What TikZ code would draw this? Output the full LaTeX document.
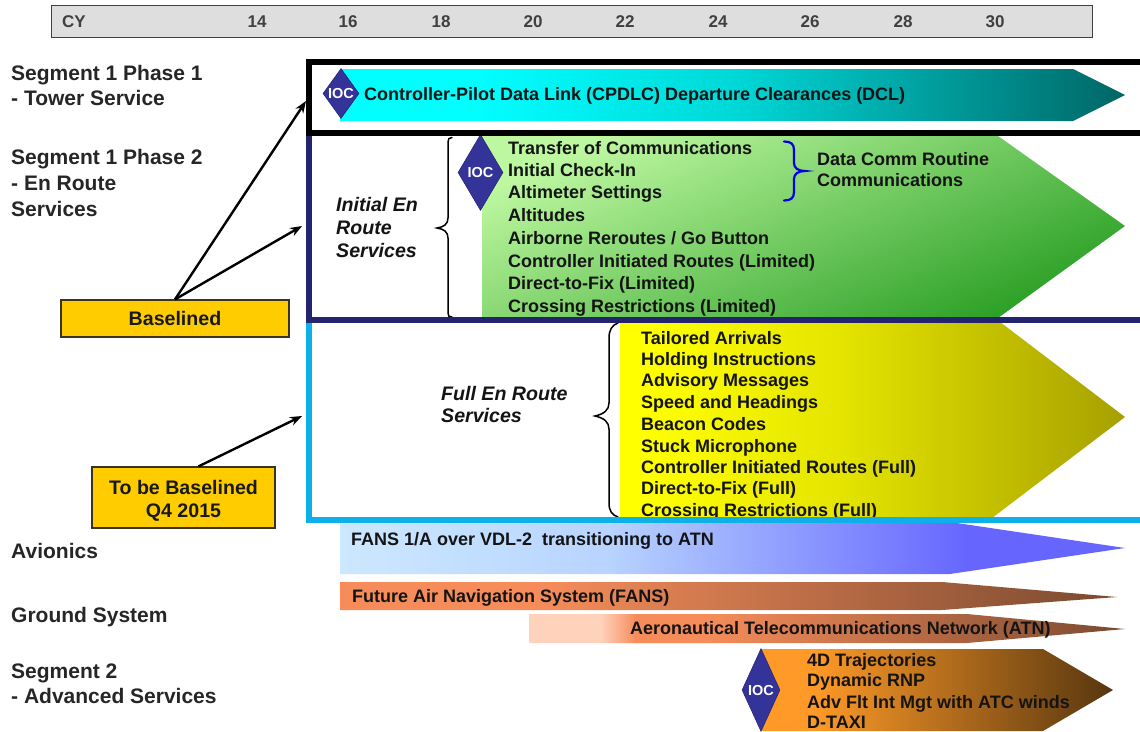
\documentclass[tikz,border=0pt]{standalone}
\usepackage{fontspec}
\setmainfont{Liberation Sans}
\usetikzlibrary{shapes.geometric,arrows.meta}
\definecolor{iocblue}{HTML}{333399}
\definecolor{navyframe}{HTML}{24246E}
\definecolor{cyanframe}{HTML}{0DB0E8}
\definecolor{goldbox}{HTML}{FFCC00}
\definecolor{boxedge}{HTML}{3A3320}
\definecolor{hdrgray}{HTML}{DEDEDE}
\definecolor{c0}{HTML}{00FFFF}\definecolor{c1}{HTML}{00D8D8}\definecolor{c2}{HTML}{006666}
\pgfdeclarehorizontalshading{dclsh}{100bp}{color(0bp)=(c0); color(25bp)=(c0); color(34bp)=(c0); color(50bp)=(c1); color(75bp)=(c2); color(100bp)=(c2)}
\definecolor{y0}{HTML}{FFFF00}\definecolor{y1}{HTML}{E4E400}\definecolor{y2}{HTML}{A6A000}
\pgfdeclarehorizontalshading{yelsh}{100bp}{color(0bp)=(y0); color(25bp)=(y0); color(28bp)=(y0); color(47bp)=(y1); color(75bp)=(y2); color(100bp)=(y2)}
\definecolor{b0}{HTML}{CCE8FF}\definecolor{b1}{HTML}{B8D4FF}\definecolor{b2}{HTML}{6666FF}
\pgfdeclarehorizontalshading{blush}{100bp}{color(0bp)=(b0); color(25bp)=(b0); color(42bp)=(b1); color(65bp)=(b2); color(100bp)=(b2)}
\definecolor{f0}{HTML}{F58C5A}\definecolor{f1}{HTML}{7A4A30}
\pgfdeclarehorizontalshading{fansh}{100bp}{color(0bp)=(f0); color(25bp)=(f0); color(38bp)=(f0); color(75bp)=(f1); color(100bp)=(f1)}
\definecolor{a0}{HTML}{FFD2BC}
\pgfdeclarehorizontalshading{atnsh}{100bp}{color(0bp)=(a0); color(25bp)=(a0); color(31bp)=(a0); color(34bp)=(f0); color(40bp)=(f0); color(75bp)=(f1); color(100bp)=(f1)}
\definecolor{o0}{HTML}{FF9A28}\definecolor{o1}{HTML}{57360F}
\pgfdeclarehorizontalshading{orash}{100bp}{color(0bp)=(o0); color(25bp)=(o0); color(32bp)=(o0); color(75bp)=(o1); color(100bp)=(o1)}
\definecolor{g0}{HTML}{BDF7A0}\definecolor{g1}{HTML}{2CA026}
\tikzset{
 x=1pt,y=-1pt,
 lbl/.style={anchor=west,inner sep=0pt,font=\fontsize{18}{20}\selectfont\bfseries,text=black!92,text height=12.9pt,text depth=0pt},
 head/.style={lbl,anchor=center,font=\fontsize{17}{20}\selectfont\bfseries,text=black!75},
 sect/.style={lbl,font=\fontsize{21}{24}\selectfont\bfseries,text height=15pt,text=black!85},
 ital/.style={lbl,font=\fontsize{19.6}{22}\selectfont\bfseries\itshape,text height=14pt},
 ioc/.style={diamond,draw=iocblue!70!black,line width=.5pt,fill=iocblue,inner sep=0pt,text=white,font=\fontsize{14.5}{16}\selectfont\bfseries},
 goldnode/.style={draw=boxedge,line width=1.2pt,fill=goldbox,inner sep=0pt,align=center,font=\fontsize{19.6}{23}\selectfont\bfseries,text=black!90},
 pointer/.style={-{Stealth[length=12pt,width=9pt]},line width=2.4pt,black},
 brace/.style={line width=1.5pt,black,line cap=round},
 frame/.style={line width=6pt,line join=miter},
}
\begin{document}
\begin{tikzpicture}
\useasboundingbox (0,0) rectangle (1140,731);
\fill[white] (0,0) rectangle (1140,731);
% header
\node[draw=black!75,line width=.8pt,fill=hdrgray,minimum width=1041pt,minimum height=32pt,inner sep=0pt,anchor=north west] (hdr) at (51,4.5) {};
\node[head] (cy) at (74,21) {CY};
\node[head] (y14) at (257,21) {14};
\node[head] (y16) at (348,21) {16};
\node[head] (y18) at (441,21) {18};
\node[head] (y20) at (533,21) {20};
\node[head] (y22) at (625,21) {22};
\node[head] (y24) at (718,21) {24};
\node[head] (y26) at (810,21) {26};
\node[head] (y28) at (903,21) {28};
\node[head] (y30) at (995,21) {30};
% left labels
\node[sect] (s1a) at (11,72.5) {Segment 1 Phase 1};
\node[sect] (s1b) at (11,98) {- Tower Service};
\node[sect] (s2a) at (11,157) {Segment 1 Phase 2};
\node[sect] (s2b) at (11,183) {- En Route};
\node[sect] (s2c) at (11,209) {Services};
\node[sect] (av) at (11,551) {Avionics};
\node[sect] (gs) at (11,615) {Ground System};
\node[sect] (s3a) at (11,671) {Segment 2};
\node[sect] (s3b) at (11,696) {- Advanced Services};
% band arrows
\shade[shading=dclsh] (340,69) -- (1073,69) -- (1125,95) -- (1073,121) -- (340,121) -- cycle;
\shade[left color=g0,right color=g1,shading angle=24]
  (482,136) -- (998,136) -- (1125,226) -- (998,318) -- (482,318) -- cycle;
\shade[shading=yelsh] (620,322) -- (1000,322) -- (1125,417) -- (992,518) -- (620,518) -- cycle;
\shade[shading=blush] (340,522) -- (950,522) -- (1125,548) -- (950,574) -- (340,574) -- cycle;
\shade[shading=fansh] (340,582) -- (942,582) -- (1117,597) -- (942,610) -- (340,610) -- cycle;
\shade[shading=atnsh] (529,614) -- (967,614) -- (1125,629) -- (967,643) -- (529,643) -- cycle;
\shade[shading=orash] (762,649) -- (1043,649) -- (1113,690) -- (1043,731) -- (762,731) -- cycle;
% braces
\draw[brace] (452,137.5) .. controls (449,137.5) and (448,139) .. (448,142) -- (448,218) .. controls (448,224) and (444,227) .. (437,228) .. controls (444,229) and (448,232) .. (448,238) -- (448,313) .. controls (448,316) and (449,317) .. (452,317);
\draw[brace] (618,323) .. controls (612,325) and (609,330) .. (609,338) -- (609,403) .. controls (609,410) and (604,414) .. (595,416) .. controls (604,418) and (609,422) .. (609,429) -- (609,503) .. controls (609,511) and (612,515) .. (618,517);
\draw[brace,draw=blue!90!black,line width=2.2pt] (784,141.5) .. controls (791,141.5) and (794,144) .. (794,150) -- (794,163) .. controls (794,168) and (798,171) .. (805,171) .. controls (798,171) and (794,174) .. (794,179) -- (794,192) .. controls (794,198) and (791,200.5) .. (784,200.5);
% texts
\node[lbl] (dcl) at (364,94) {Controller-Pilot Data Link (CPDLC) Departure Clearances (DCL)};
\node[ital] (ie1) at (336,204) {Initial En};
\node[ital] (ie2) at (336,227) {Route};
\node[ital] (ie3) at (336,250) {Services};
\node[ital] (fe1) at (441,393) {Full En Route};
\node[ital] (fe2) at (441,415) {Services};
\node[lbl] (g1) at (508,148) {Transfer of Communications};
\node[lbl] (g2) at (508,170) {Initial Check-In};
\node[lbl] (g3) at (508,192) {Altimeter Settings};
\node[lbl] (g4) at (508,215) {Altitudes};
\node[lbl] (g5) at (508,238) {Airborne Reroutes / Go Button};
\node[lbl] (g6) at (508,261) {Controller Initiated Routes (Limited)};
\node[lbl] (g7) at (508,283) {Direct-to-Fix (Limited)};
\node[lbl] (g8) at (508,306) {Crossing Restrictions (Limited)};
\node[lbl] (dc1) at (817,159) {Data Comm Routine};
\node[lbl] (dc2) at (817,180) {Communications};
\node[lbl] (p1) at (641,338) {Tailored Arrivals};
\node[lbl] (p2) at (641,359) {Holding Instructions};
\node[lbl] (p3) at (641,380) {Advisory Messages};
\node[lbl] (p4) at (641,402) {Speed and Headings};
\node[lbl] (p5) at (641,424) {Beacon Codes};
\node[lbl] (p6) at (641,446) {Stuck Microphone};
\node[lbl] (p7) at (641,467) {Controller Initiated Routes (Full)};
\node[lbl] (p8) at (641,488) {Direct-to-Fix (Full)};
\node[lbl] (p9) at (641,510) {Crossing Restrictions (Full)};
\node[lbl] (fa) at (351,539) {FANS 1/A over VDL-2\ \ transitioning to ATN};
\node[lbl] (ff) at (352,596) {Future Air Navigation System (FANS)};
\node[lbl] (at) at (630,628) {Aeronautical Telecommunications Network (ATN)};
\node[lbl] (t1) at (807,660) {4D Trajectories};
\node[lbl] (t2) at (807,680) {Dynamic RNP};
\node[lbl] (t3) at (807,702) {Adv Flt Int Mgt with ATC winds};
\node[lbl] (t4) at (807,722) {D-TAXI};
% diamonds
\node[ioc,minimum width=36pt,minimum height=50pt] (ioc1) at (341,93.5) {IOC};
\node[ioc,minimum width=45pt,minimum height=76pt] (ioc2) at (480.5,172.5) {IOC};
\node[ioc,minimum width=38pt,minimum height=83pt] (ioc3) at (761,690) {IOC};
% frames
\draw[frame,cyanframe] (1145,520) -- (309,520) -- (309,320);
\draw[frame,navyframe] (1145,320) -- (309,320) -- (309,132);
\draw[frame,black] (1145,62) -- (309,62) -- (309,132.5) -- (1145,132.5);
% callouts
\node[goldnode,minimum width=228pt,minimum height=37pt] (base) at (175,318.5) {Baselined};
\node[goldnode,minimum width=183pt,minimum height=61pt] (tobe) at (183.5,497.5) {\rule{0pt}{20pt}To be Baselined\\Q4 2015};
\coordinate (toS1) at (306,101);
\coordinate (toS2) at (302,226);
\coordinate (toFull) at (302,416);
\draw[pointer] (base.north) -- (toS1);
\draw[pointer] (base.north) -- (toS2);
\draw[pointer] ([xshift=15pt]tobe.north) -- (toFull);
\end{tikzpicture}
\end{document}
